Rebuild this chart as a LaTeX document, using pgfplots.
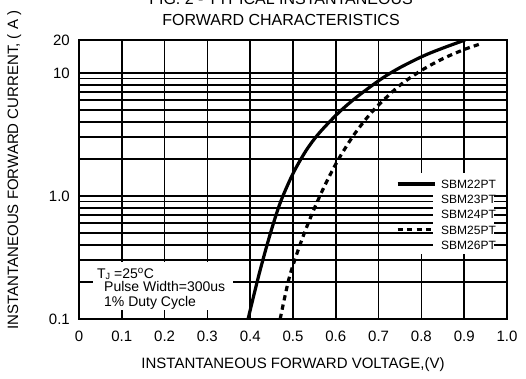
\documentclass[border=0pt]{standalone}
\usepackage{fontspec}
\setmainfont{Liberation Sans}
\usepackage{pgfplots}
\pgfplotsset{compat=1.18}
\begin{document}
\begin{tikzpicture}
\begin{axis}[
  at={(0pt,0pt)}, anchor=south west,
  scale only axis, width=428pt, height=279pt,
  xmin=0, xmax=1, ymode=log, ymin=0.1, ymax=18.5,
  xtick={0,0.1,0.2,0.3,0.4,0.5,0.6,0.7,0.8,0.9,1},
  xticklabels={0,0.1,0.2,0.3,0.4,0.5,0.6,0.7,0.8,0.9,1.0},
  ytick={0.1,1,10}, yticklabels={0.1,1.0,10},
  extra y ticks={18.5}, extra y tick labels={20},
  minor ytick={0.2,0.3,0.4,0.5,0.6,0.7,0.8,0.9,2,3,4,5,6,7,8,9},
  xmajorgrids, ymajorgrids, yminorgrids,
  grid style={black, line width=1.6pt},
  major grid style={black, line width=1.6pt},
  minor grid style={black, line width=1.6pt},
  axis line style={black, line width=2pt},
  tick style={black, line width=1.6pt},
  major tick length=9pt, minor tick length=14pt,
  tick label style={font=\fontsize{15}{18}\selectfont, inner sep=0pt},
  xticklabel style={anchor=base, yshift=-22pt},
  yticklabel style={anchor=east, xshift=-9pt},
  xlabel={INSTANTANEOUS FORWARD VOLTAGE,(V)},
  ylabel={INSTANTANEOUS FORWARD CURRENT, ( A )},
  label style={font=\fontsize{15}{18}\selectfont, inner sep=0pt},
  xlabel style={at={(axis description cs:0.5,-0.1756)}, anchor=base},
  ylabel style={at={(axis description cs:-0.1425,0.534)}, anchor=base},
  title={FIG. 2 - TYPICAL INSTANTANEOUS\\FORWARD CHARACTERISTICS},
  title style={font=\fontsize{16}{21}\selectfont, align=center, at={(axis description cs:0.472,1.0287)}, anchor=base, inner sep=0pt},
  legend image code/.code={\draw[#1] (0pt,0pt) -- (37pt,0pt);},
  legend cell align=left,
  legend style={at={(axis cs:0.7407,1.388)}, anchor=north west, draw=none, fill=none,
    inner sep=0pt, outer sep=0pt, row sep=4.25pt, column sep=4pt,
    font=\fontsize{12}{14}\selectfont,
    nodes={inner sep=1pt, text height=9pt, text depth=0pt}},
]
% white box behind annotation
\fill[white] (axis cs:0.0327,0.1184) rectangle (axis cs:0.36,0.2906);
\node[anchor=base west, inner sep=0pt, font=\fontsize{14}{16}\selectfont] at (axis cs:0.042,0.2140) {T\raisebox{-1.5pt}{\fontsize{9}{9}\selectfont J} =25\textsuperscript{o}C};
\node[anchor=base west, inner sep=0pt, font=\fontsize{14}{16}\selectfont] at (axis cs:0.0584,0.1658) {Pulse Width=300us};
\node[anchor=base west, inner sep=0pt, font=\fontsize{14}{16}\selectfont] at (axis cs:0.0584,0.1252) {1\% Duty Cycle};
% white box behind legend
\fill[white] (axis cs:0.731,0.3376) rectangle (axis cs:0.9696,1.55);
\pgfplotsinvokeforeach{0.4,0.5,0.6,0.7,0.8,0.9,1}{\draw[black,line width=1.6pt] (axis cs:0.731,#1) -- (axis cs:0.827,#1);}

\addplot[black, line width=3.2pt, smooth] coordinates {
(0.395,0.1) (0.42,0.226) (0.445,0.468) (0.47,0.877) (0.50,1.52) (0.53,2.32)
(0.56,3.21) (0.606,4.73) (0.65,6.41) (0.708,9.02) (0.75,11.04) (0.804,13.7)
(0.85,15.9) (0.902,18.5)};
\addlegendentry{SBM22PT}
\addlegendimage{empty legend}\addlegendentry{SBM23PT}
\addlegendimage{empty legend}\addlegendentry{SBM24PT}
\addplot[black, line width=3.2pt, dash pattern=on 5.3pt off 4.2pt, smooth] coordinates {
(0.47,0.1) (0.49,0.209) (0.51,0.347) (0.53,0.537) (0.55,0.794) (0.57,1.132)
(0.59,1.563) (0.61,2.089) (0.64,3.055) (0.67,4.198) (0.70,5.495) (0.75,7.943)
(0.80,10.47) (0.85,13.03) (0.90,15.49) (0.942,17.38)};
\addlegendentry{SBM25PT}
\addlegendimage{empty legend}\addlegendentry{SBM26PT}
\end{axis}
\pgfresetboundingbox
\useasboundingbox (-79pt,-59pt) rectangle (447pt,319pt);
\end{tikzpicture}
\end{document}
